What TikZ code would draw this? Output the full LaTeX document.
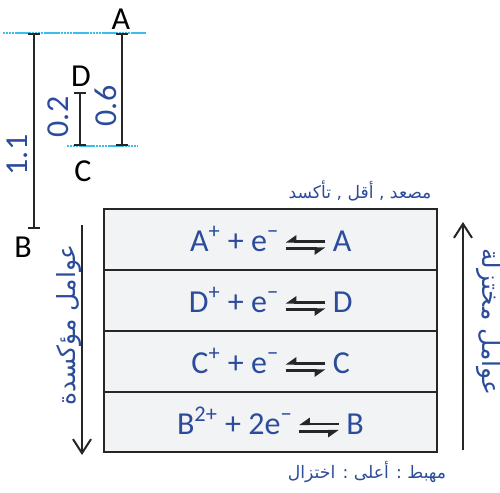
\documentclass[tikz,border=0pt]{standalone}
\usepackage{fontspec}
\setmainfont{Carlito}
\newfontfamily\arabicfont[Script=Arabic]{DejaVu Sans}
\TeXXeTstate=1
\usetikzlibrary{arrows.meta,calc}
\definecolor{txtblue}{HTML}{2B4C9B}
\definecolor{lvlcyan}{HTML}{3CBEEA}
\definecolor{rowfill}{HTML}{F2F3F5}
\definecolor{edge}{HTML}{262626}
\tikzset{
 lvl/.style={lvlcyan, line width=1.4pt, dash pattern=on 1.2pt off 0.25pt},
 gap/.style={edge, line width=0.8pt, {Bar[width=6pt,line width=0.9pt]}-{Bar[width=6pt,line width=0.9pt]}},
 ltr/.style={font=\fontsize{16}{18}\selectfont, text=black, inner sep=0pt},
 num/.style={font=\fontsize{16}{18}\selectfont, text=txtblue, rotate=90, inner sep=0pt},
 rowbox/.style={draw=edge, fill=rowfill, line width=1pt},
 eq/.style={font=\fontsize{16}{18}\selectfont, text=txtblue, inner sep=0pt},
 arrbox/.style={minimum width=19.5pt, minimum height=3.2pt, inner sep=0pt},
 harp/.style={line width=1.4pt, edge},
 side/.style={font=\arabicfont\fontsize{12.5}{14}\selectfont, text=txtblue, inner sep=0pt},
 capt/.style={font=\arabicfont\fontsize{8.6}{11}\selectfont, text=txtblue, inner sep=0pt},
 vert/.style={edge, line width=1pt, -{Straight Barb[length=7pt,width=9pt]}},
 hl/.style={harp, -{Triangle[harpoon,swap,length=4.5pt,width=6pt]}},
}
\begin{document}
\begin{tikzpicture}[x=0.5pt,y=-0.5pt]
\useasboundingbox (0,0) rectangle (500,493);
% energy levels
\coordinate (lvA0) at (3,33); \coordinate (lvA1) at (146,33);
\coordinate (lvC0) at (67,146); \coordinate (lvC1) at (138,146);
\draw[lvl] (lvA0) -- (lvA1);
\draw[lvl] (lvC0) -- (lvC1);
% gaps
\coordinate (g1t) at (34,33); \coordinate (g1b) at (34,229);
\coordinate (g2t) at (80,92); \coordinate (g2b) at (80,146);
\coordinate (g3t) at (122,33); \coordinate (g3b) at (122,146);
\draw[gap] (g1t) -- (g1b);
\draw[gap] (g2t) -- (g2b);
\draw[gap] (g3t) -- (g3b);
\node[ltr] (lA) at (121,19) {A};
\node[ltr] (lD) at (81,76.5) {D};
\node[ltr] (lC) at (83,171) {C};
\node[ltr] (lB) at (23,247) {B};
\node[num] (n11) at (17,155) {1.1};
\node[num] (n02) at (58,117) {0.2};
\node[num] (n06) at (106,106) {0.6};
% table rows
\draw[rowbox] (104,209) rectangle (437,270);
\draw[rowbox] (104,270) rectangle (437,331);
\draw[rowbox] (104,331) rectangle (437,392);
\draw[rowbox] (104,392) rectangle (437,452);
% equations
\node[arrbox] (h1) at (305.5,245) {};
\node[eq, anchor=base east] (l1) at ($(h1.west)+(-6,6.5)$) {A\textsuperscript{+} + e\textsuperscript{−}};
\node[eq, anchor=base west] (r1) at ($(h1.east)+(7,6.5)$) {A};
\node[arrbox] (h2) at (305.5,306) {};
\node[eq, anchor=base east] (l2) at ($(h2.west)+(-6,6.5)$) {D\textsuperscript{+} + e\textsuperscript{−}};
\node[eq, anchor=base west] (r2) at ($(h2.east)+(7,6.5)$) {D};
\node[arrbox] (h3) at (305.5,367) {};
\node[eq, anchor=base east] (l3) at ($(h3.west)+(-6,6.5)$) {C\textsuperscript{+} + e\textsuperscript{−}};
\node[eq, anchor=base west] (r3) at ($(h3.east)+(7,6.5)$) {C};
\node[arrbox] (h4) at (319,427.5) {};
\node[eq, anchor=base east] (l4) at ($(h4.west)+(-6,6.5)$) {B\textsuperscript{2+} + 2e\textsuperscript{−}};
\node[eq, anchor=base west] (r4) at ($(h4.east)+(7,6.5)$) {B};
\foreach \h in {h1,h2,h3,h4}{
  \draw[hl] (\h.north east) -- (\h.north west);
  \draw[hl] (\h.south west) -- (\h.south east);
}
% vertical arrows
\coordinate (lt) at (82,225); \coordinate (lb) at (82,455);
\draw[vert] (lt) -- (lb);
\coordinate (rb) at (463,450); \coordinate (rt) at (463,222);
\draw[vert] (rb) -- (rt);
% arabic texts
\node[side, rotate=90] (sl) at (69,325) {\beginR عوامل مؤكسدة\endR};
\node[side, rotate=-90] (sr) at (489,322) {\beginR عوامل مختزلة\endR};
\node[capt] (ct) at (360,191) {\beginR مصعد , أقل , تأكسد\endR};
\node[capt] (cb) at (367,472) {\beginR مهبط : أعلى : اختزال\endR};
\end{tikzpicture}
\end{document}
